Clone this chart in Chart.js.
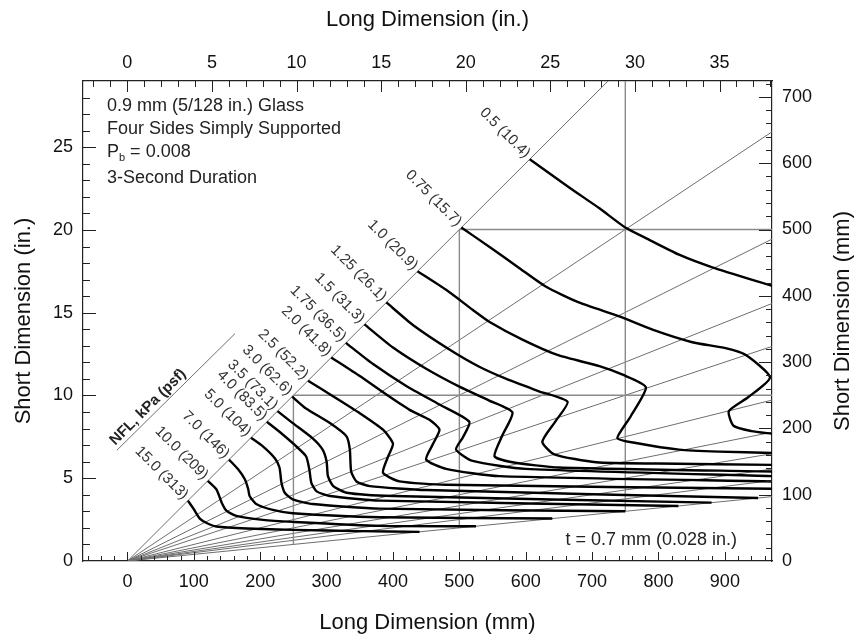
<!DOCTYPE html>
<html lang="en">
<head>
<meta charset="UTF-8">
<title>NFL chart - 0.9 mm glass</title>
<script src="https://cdn.jsdelivr.net/npm/chart.js@4.4.1/dist/chart.umd.min.js"></script>
<style>
  html, body { margin: 0; padding: 0; background: #fff; }
  #wrap { width: 857px; height: 637px; }
</style>
</head>
<body>
<div id="wrap"><canvas id="nflChart" width="857" height="637"></canvas></div>
<script>
const FONT = '"Liberation Sans", Arial, Helvetica, sans-serif';

// NFL curves, labels in kPa (psf); points are [long, short] in mm
const nflLabels = ['0.5 (10.4)', '0.75 (15.7)', '1.0 (20.9)', '1.25 (26.1)', '1.5 (31.3)',
  '1.75 (36.5)', '2.0 (41.8)', '2.5 (52.2)', '3.0 (62.6)', '3.5 (73.1)', '4.0 (83.5)',
  '5.0 (104)', '7.0 (146)', '10.0 (209)', '15.0 (313)'];

const nfl050 = [[606,606],[666,563],[711,532],[750,503],[781,487],[831,462],[881,443],[971,415]];
const nfl075 = [[503,503],[545,474],[590,442],[630,414],[680,390],[741,369],[791,349],[851,330],[901,321],[931,311],[968,277],[935,247],[906,226],[913,204],[940,196],[971,192]];
const nfl100 = [[437,437],[480,409],[520,379],[545,361],[595,334],[650,310],[711,294],[746,281],[781,262],[758,218],[738,185],[766,178],[831,168],[891,165],[971,163]];
const nfl125 = [[390,390],[430,356],[485,319],[530,293],[570,275],[620,256],[663,240],[645,211],[625,180],[643,161],[706,149],[800,147],[971,145]];
const nfl150 = [[357,357],[400,322],[450,290],[500,263],[545,242],[580,224],[565,190],[553,158],[580,149],[650,141],[971,135]];
const nfl175 = [[329,329],[370,297],[420,264],[470,236],[515,210],[505,186],[495,168],[520,151],[600,139],[971,128]];
const nfl200 = [[307,307],[350,279],[390,251],[425,228],[455,213],[470,198],[460,176],[450,153],[480,139],[560,128],[971,120]];
const nfl250 = [[272,272],[309,249],[350,223],[385,198],[400,177],[392,156],[385,133],[410,120],[480,115],[971,109]];
const nfl300 = [[248,248],[269,230],[305,208],[330,188],[335,168],[337,135],[345,120],[365,113],[450,107],[950,95]];
const nfl350 = [[226,226],[249,208],[279,185],[294,168],[300,150],[302,128],[310,113],[330,103],[400,98],[880,88]];
const nfl400 = [[210,210],[229,195],[252,175],[269,158],[274,138],[277,118],[285,105],[305,98],[380,91],[830,83]];
const nfl500 = [[186,186],[204,173],[222,155],[229,141],[232,118],[237,103],[249,93],[279,86],[380,79],[750,75]];
const nfl700 = [[153,153],[167,138],[177,123],[182,108],[184,98],[194,86],[219,77],[249,72],[380,66],[640,64]];
const nfl1000 = [[121,121],[134,108],[142,88],[149,76],[164,68],[204,62],[249,59],[380,53],[525,52.5]];
const nfl1500 = [[91,91],[100,78],[109,64],[120,57],[134,52],[180,49],[250,47],[350,45],[440,44]];

const curves = [nfl050, nfl075, nfl100, nfl125, nfl150, nfl175, nfl200, nfl250,
  nfl300, nfl350, nfl400, nfl500, nfl700, nfl1000, nfl1500];

// aspect ratio rays (long / short) from the origin, and the reference grid
const aspectRatios = [1, 1.5, 2, 2.5, 3, 4, 5, 6, 7, 8, 10];
const gridLong = [250, 500, 750];
const gridShort = [250, 500];
const nflHeaderLine = [[-16, 167], [162, 343]];
const nflHeaderAt = [31, 232];

// axis ticks
const longTicksMm = [0, 100, 200, 300, 400, 500, 600, 700, 800, 900];
const longTicksIn = [0, 5, 10, 15, 20, 25, 30, 35];
const shortTicksMm = [0, 100, 200, 300, 400, 500, 600, 700];
const shortTicksIn = [0, 5, 10, 15, 20, 25];

const toXY = pts => pts.map(([x, y]) => ({x, y}));
const farLong = 1100;

const datasets = [];
curves.forEach((c, i) => {
  datasets.push({
    label: nflLabels[i], data: toXY(c), showLine: true,
    borderColor: '#000', borderWidth: 2.4, pointRadius: 0, tension: 0.2
  });
});
gridLong.forEach(g => {
  datasets.push({ data: toXY([[g, g / 10], [g, g]]), showLine: true,
    borderColor: '#8a8a8a', borderWidth: 1.4, pointRadius: 0 });
});
gridShort.forEach(g => {
  datasets.push({ data: toXY([[g, g], [farLong, g]]), showLine: true,
    borderColor: '#8a8a8a', borderWidth: 1.4, pointRadius: 0 });
});
aspectRatios.forEach(r => {
  datasets.push({ data: toXY([[0, 0], [farLong, farLong / r]]), showLine: true,
    borderColor: '#6e6e6e', borderWidth: 1, pointRadius: 0 });
});
datasets.push({ data: toXY(nflHeaderLine), showLine: true,
  borderColor: '#6e6e6e', borderWidth: 1, pointRadius: 0 });

const fixedTicks = vals => scale => { scale.ticks = vals.map(v => ({value: v})); };

const decorations = {
  id: 'decorations',
  afterDatasetsDraw(chart) {
    const {ctx, chartArea: a, scales} = chart;
    const sx = scales.x, sy = scales.y, sxIn = scales.xIn, syIn = scales.yIn;
    ctx.save();

    // inward tick marks
    ctx.strokeStyle = '#222';
    ctx.lineWidth = 1;
    const line = (x1, y1, x2, y2) => { ctx.beginPath(); ctx.moveTo(x1, y1); ctx.lineTo(x2, y2); ctx.stroke(); };
    for (let v = -60; v <= 960; v += 20) {
      const p = Math.round(sx.getPixelForValue(v)) + 0.5;
      line(p, a.bottom, p, a.bottom - (v % 100 === 0 ? 9 : 5));
    }
    for (let v = -2; v <= 38; v++) {
      const p = Math.round(sxIn.getPixelForValue(v)) + 0.5;
      line(p, a.top, p, a.top + (v % 5 === 0 ? 11 : 6));
    }
    for (let v = 1; v <= 28; v++) {
      const p = Math.round(syIn.getPixelForValue(v)) + 0.5;
      line(a.left, p, a.left + (v % 5 === 0 ? 13 : 7), p);
    }
    for (let v = 20; v <= 720; v += 20) {
      const p = Math.round(sy.getPixelForValue(v)) + 0.5;
      line(a.right, p, a.right - (v % 100 === 0 ? 13 : 6), p);
    }

    // curve labels, perpendicular to the 1:1 line
    ctx.fillStyle = '#333';
    ctx.font = '15px ' + FONT;
    ctx.textAlign = 'right';
    ctx.textBaseline = 'middle';
    curves.forEach((c, i) => {
      const px = sx.getPixelForValue(c[0][0]);
      const py = sy.getPixelForValue(c[0][1]);
      ctx.save();
      ctx.translate(px, py);
      ctx.rotate(Math.PI / 4);
      ctx.fillText(nflLabels[i], -4, -1);
      ctx.restore();
    });

    // header along the offset line
    ctx.save();
    ctx.translate(sx.getPixelForValue(nflHeaderAt[0]), sy.getPixelForValue(nflHeaderAt[1]));
    ctx.rotate(-Math.PI / 4);
    ctx.font = 'bold 15px ' + FONT;
    ctx.textAlign = 'center';
    ctx.fillStyle = '#222';
    ctx.fillText('NFL, kPa (psf)', 0, 0);
    ctx.restore();

    // notes
    ctx.fillStyle = '#222';
    ctx.font = '18px ' + FONT;
    ctx.textAlign = 'left';
    const nx = a.left + 24;
    ctx.fillText('0.9 mm (5/128 in.) Glass', nx, a.top + 25);
    ctx.fillText('Four Sides Simply Supported', nx, a.top + 48);
    ctx.fillText('P', nx, a.top + 71);
    const pw = ctx.measureText('P').width;
    ctx.font = '11px ' + FONT;
    ctx.fillText('b', nx + pw, a.top + 77);
    const bw = ctx.measureText('b').width;
    ctx.font = '18px ' + FONT;
    ctx.fillText(' = 0.008', nx + pw + bw, a.top + 71);
    ctx.fillText('3-Second Duration', nx, a.top + 97);
    ctx.textAlign = 'right';
    ctx.fillText('t = 0.7 mm (0.028 in.)', a.right - 35, a.bottom - 21);

    // right axis title, reading bottom to top
    ctx.save();
    ctx.translate(843, (a.top + a.bottom) / 2);
    ctx.rotate(-Math.PI / 2);
    ctx.textAlign = 'center';
    ctx.fillStyle = '#111';
    ctx.font = '22px ' + FONT;
    ctx.fillText('Short Dimension (mm)', 0, 0);
    ctx.restore();

    ctx.restore();
  }
};

const tickFont = {family: FONT, size: 18};
const titleFont = {family: FONT, size: 22};
const border = {display: true, color: '#222', width: 1.2};

new Chart(document.getElementById('nflChart'), {
  type: 'scatter',
  data: { datasets },
  options: {
    responsive: false,
    devicePixelRatio: 1,
    animation: false,
    events: [],
    layout: { padding: 0 },
    plugins: { legend: { display: false }, tooltip: { enabled: false } },
    scales: {
      x: {
        type: 'linear', position: 'bottom', min: -67, max: 971,
        afterBuildTicks: fixedTicks(longTicksMm),
        afterFit: s => { s.height = 76; },
        grid: { display: false, drawTicks: false }, border,
        ticks: { font: tickFont, color: '#111', padding: 10, maxRotation: 0 },
        title: { display: true, text: 'Long Dimension (mm)', font: titleFont, color: '#111', padding: {top: 0, bottom: 1} }
      },
      xIn: {
        type: 'linear', position: 'top', min: -2.62, max: 38.1,
        afterBuildTicks: fixedTicks(longTicksIn),
        afterFit: s => { s.height = 81; },
        grid: { display: false, drawTicks: false }, border,
        ticks: { font: tickFont, color: '#111', padding: 7, maxRotation: 0 },
        title: { display: true, text: 'Long Dimension (in.)', font: titleFont, color: '#111', padding: {top: 7, bottom: 0} }
      },
      y: {
        type: 'linear', position: 'right', min: 0, max: 724,
        afterBuildTicks: fixedTicks(shortTicksMm),
        afterFit: s => { s.width = 85; },
        grid: { display: false, drawTicks: false }, border,
        ticks: { font: tickFont, color: '#111', padding: 10 }
      },
      yIn: {
        type: 'linear', position: 'left', min: 0, max: 29,
        afterBuildTicks: fixedTicks(shortTicksIn),
        afterFit: s => { s.width = 83; },
        grid: { display: false, drawTicks: false }, border,
        ticks: { font: tickFont, color: '#111', padding: 10 },
        title: { display: true, text: 'Short Dimension (in.)', font: titleFont, color: '#111', padding: {top: 11, bottom: 0} }
      }
    }
  },
  plugins: [decorations]
});
</script>
</body>
</html>
